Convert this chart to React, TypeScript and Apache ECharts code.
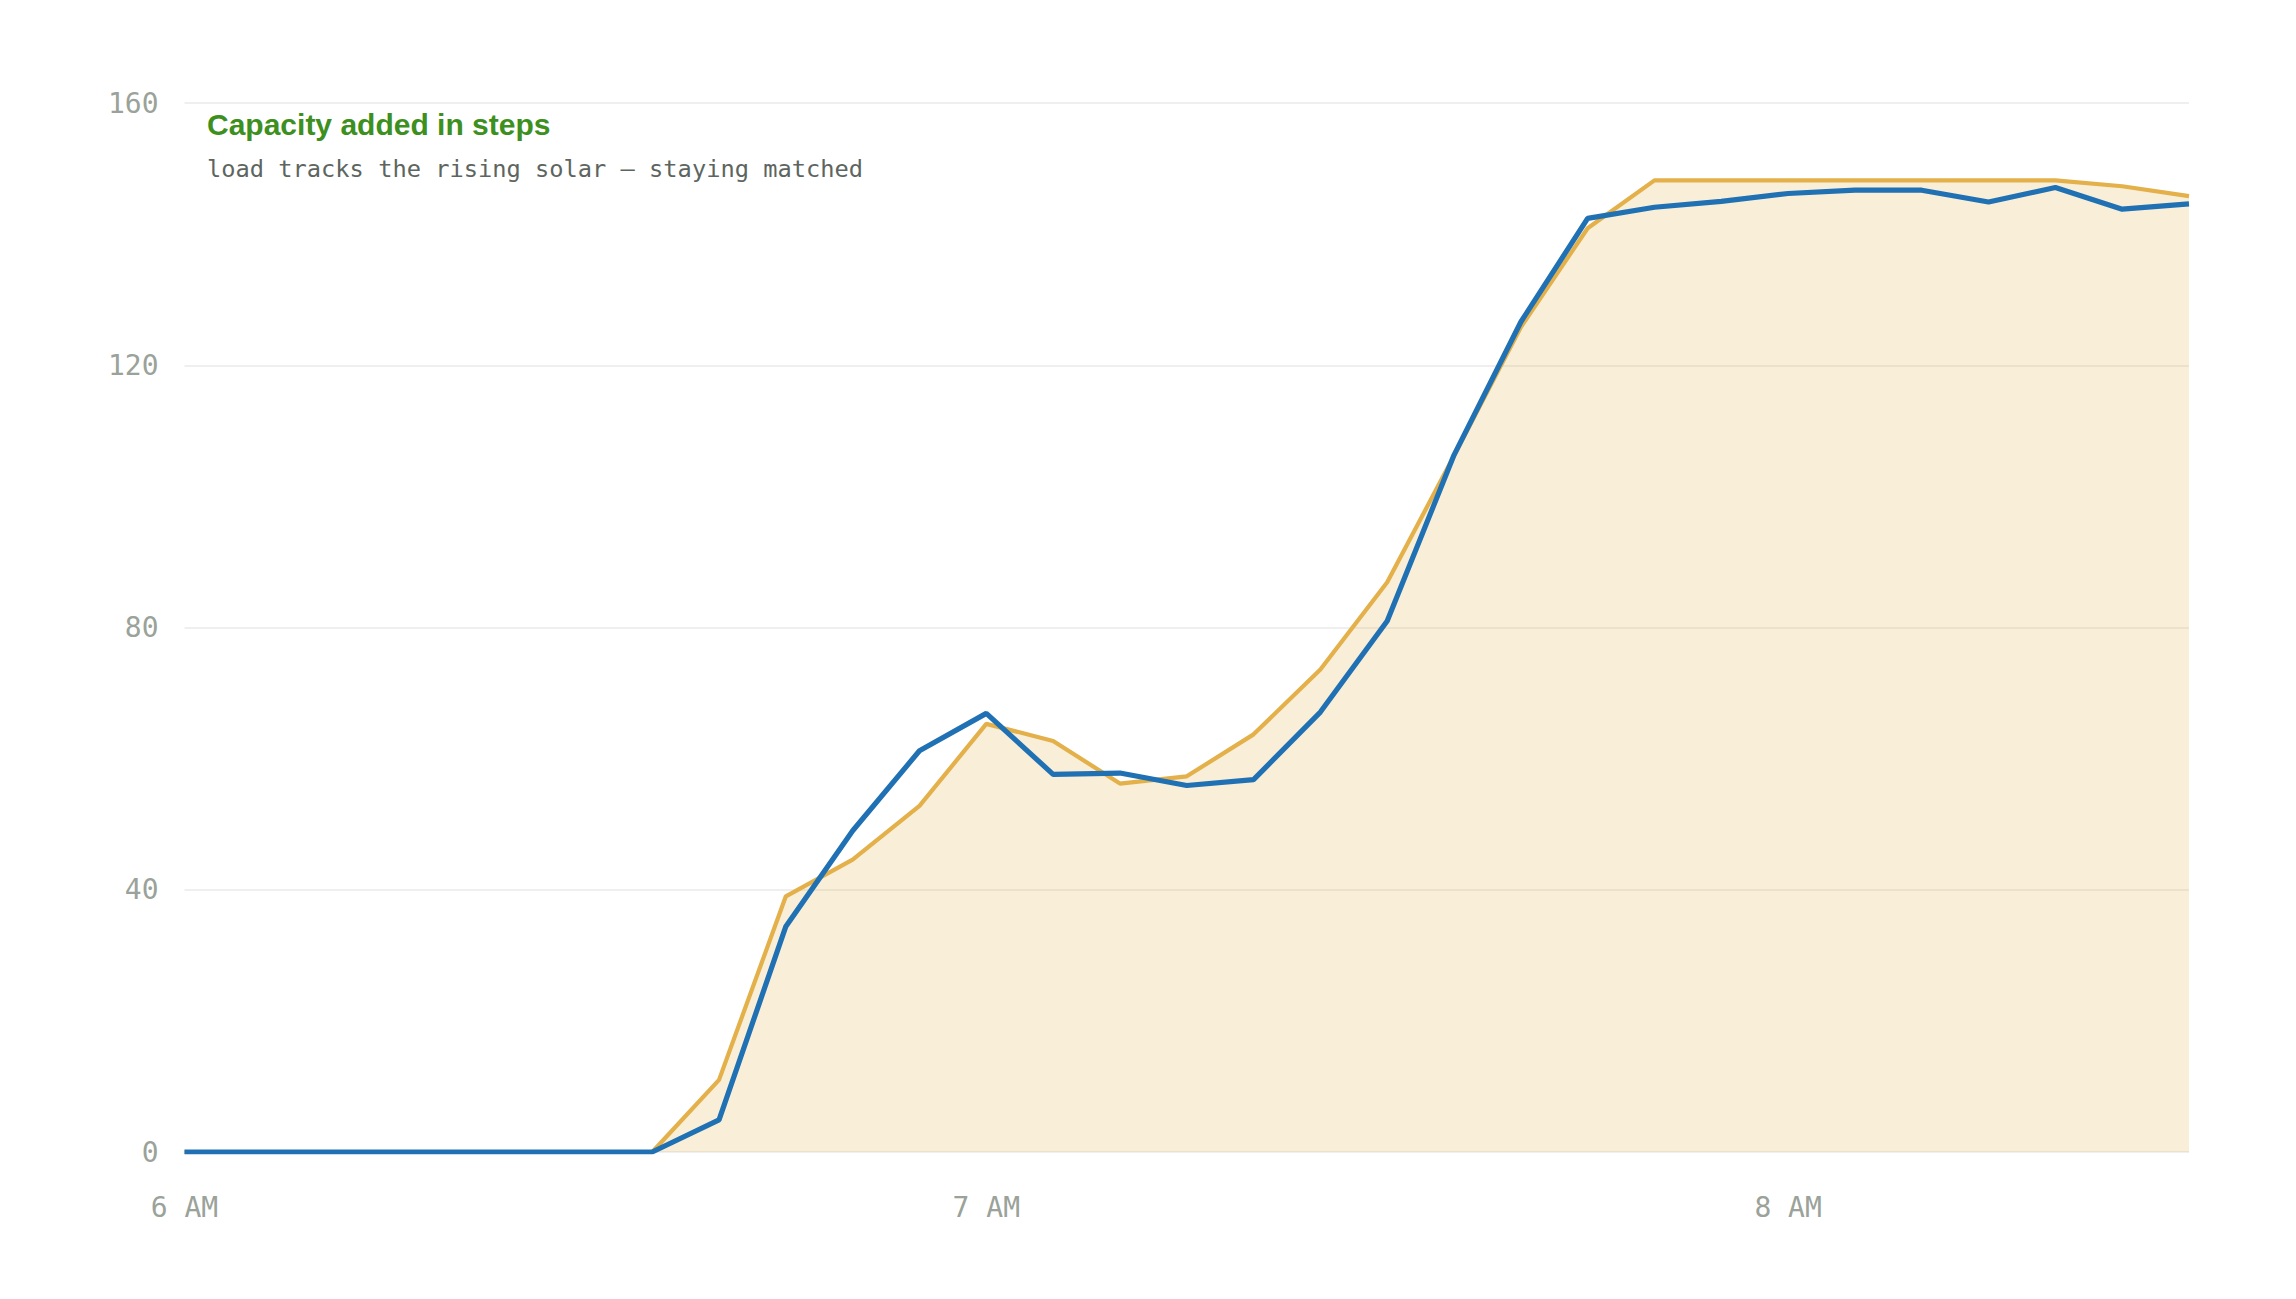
import React, { useEffect, useRef } from "react";
import * as echarts from "echarts";

const times = [
  "6:00", "6:05", "6:10", "6:15", "6:20", "6:25", "6:30", "6:35", "6:40", "6:45", "6:50", "6:55",
  "7:00", "7:05", "7:10", "7:15", "7:20", "7:25", "7:30", "7:35", "7:40", "7:45", "7:50", "7:55",
  "8:00", "8:05", "8:10", "8:15", "8:20", "8:25", "8:30",
];
const hourLabels: Record<string, string> = { "6:00": "6 AM", "7:00": "7 AM", "8:00": "8 AM" };

const solar = [
  0, 0, 0, 0, 0, 0, 0, 0, 11, 39, 44.6, 52.8, 65.3, 62.7, 56.2, 57.3, 63.7, 73.6, 86.9, 106.2,
  125.8, 140.9, 148.2, 148.2, 148.2, 148.2, 148.2, 148.2, 148.2, 147.3, 145.8,
];
const load = [
  0, 0, 0, 0, 0, 0, 0, 0, 4.9, 34.4, 49, 61.2, 66.9, 57.6, 57.8, 55.9, 56.8, 67.1, 81, 106.3,
  126.6, 142.4, 144.1, 145, 146.2, 146.7, 146.7, 144.9, 147.1, 143.8, 144.6,
];

const titleText = "Capacity added in steps";
const subtitleText = "load tracks the rising solar — staying matched";

const MONO = "'DejaVu Sans Mono', monospace";

export default function App() {
  const ref = useRef<HTMLDivElement>(null);
  useEffect(() => {
    document.body.style.margin = "0";
    if (!ref.current) return;
    const chart = echarts.init(ref.current, undefined, { renderer: "svg" });
    chart.setOption({
      animation: false,
      backgroundColor: "#ffffff",
      grid: { left: 184.5, right: 107, top: 103, bottom: 147, containLabel: false },
      xAxis: {
        type: "category",
        data: times,
        boundaryGap: false,
        axisLine: { show: false },
        axisTick: { show: false },
        splitLine: { show: false },
        axisLabel: {
          interval: 0,
          margin: 41,
          color: "#9aa29a",
          fontFamily: MONO,
          fontSize: 28,
          formatter: (v: string) => hourLabels[v] || "",
        },
      },
      yAxis: {
        type: "value",
        min: 0,
        max: 160,
        interval: 40,
        axisLine: { show: false },
        axisTick: { show: false },
        axisLabel: { margin: 26, color: "#9aa29a", fontFamily: MONO, fontSize: 28 },
        splitLine: { lineStyle: { color: "#eaeaea", width: 1.5 } },
      },
      graphic: [
        {
          type: "text",
          left: 207,
          top: 109,
          z: 10,
          style: {
            text: titleText,
            fill: "#3d8f1e",
            font: "bold 30px 'Liberation Sans', Arial, sans-serif",
          },
        },
        {
          type: "text",
          left: 207,
          top: 157,
          z: 10,
          style: {
            text: subtitleText,
            fill: "#5d6560",
            font: "23.7px 'DejaVu Sans Mono', monospace",
          },
        },
      ],
      series: [
        {
          name: "solar",
          type: "line",
          data: solar,
          symbol: "none",
          lineStyle: { color: "#e3b04a", width: 4.2 },
          areaStyle: { color: "#e3b04a", opacity: 0.22 },
          z: 2,
        },
        {
          name: "load",
          type: "line",
          data: load,
          symbol: "none",
          lineStyle: { color: "#2070b4", width: 5.2 },
          z: 3,
        },
      ],
    });
    return () => chart.dispose();
  }, []);
  return <div ref={ref} style={{ width: 2296, height: 1299 }} />;
}
